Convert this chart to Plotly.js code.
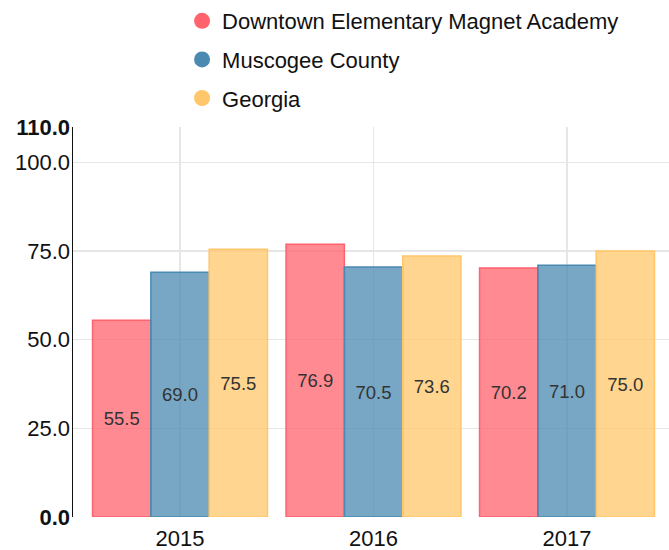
<!DOCTYPE html>
<html>
<head>
<meta charset="utf-8">
<script src="https://cdn.plot.ly/plotly-3.0.1.min.js"></script>
<style>html,body{margin:0;padding:0;background:#fff;}#chart{width:669px;height:550px;}</style>
</head>
<body>
<div id="chart"></div>
<script>
const years = ["2015", "2016", "2017"];
const seriesNames = ["Downtown Elementary Magnet Academy", "Muscogee County", "Georgia"];
const schoolValues = [55.5, 76.9, 70.2];
const countyValues = [69.0, 70.5, 71.0];
const stateValues = [75.5, 73.6, 75.0];
const yTickVals = [0, 25, 50, 75, 100, 110];
const yTickText = ["<b>0.0</b>", "25.0", "50.0", "75.0", "100.0", "<b>110.0</b>"];

const baseColors = ["rgb(255,99,110)", "rgb(74,137,176)", "rgb(255,199,106)"];
const fillColors = ["rgba(255,99,110,0.75)", "rgba(74,137,176,0.75)", "rgba(255,199,106,0.75)"];
const allValues = [schoolValues, countyValues, stateValues];
const FONT = "Liberation Sans, Arial, Helvetica, sans-serif";

const traces = [];
allValues.forEach((vals, i) => {
  traces.push({
    type: "bar",
    x: years,
    y: vals,
    name: seriesNames[i],
    showlegend: false,
    marker: {color: fillColors[i], line: {color: baseColors[i], width: 1.5}},
    texttemplate: "%{y:.1f}",
    textposition: "inside",
    insidetextanchor: "middle",
    textangle: 0,
    textfont: {family: FONT, size: 18.5, color: "#333"},
    hoverinfo: "skip"
  });
});
seriesNames.forEach((n, i) => {
  traces.push({
    type: "scatter",
    mode: "markers",
    x: [null],
    y: [null],
    name: n,
    legendgroup: "g" + i,
    marker: {color: baseColors[i], size: 22, symbol: "circle"},
    showlegend: true
  });
});

const layout = {
  width: 669,
  height: 550,
  margin: {l: 73, r: 0, t: 127, b: 33},
  paper_bgcolor: "#fff",
  plot_bgcolor: "#fff",
  font: {family: FONT, size: 22, color: "#111"},
  barmode: "group",
  bargap: 0.096,
  bargroupgap: 0,
  showlegend: true,
  legend: {
    x: 0.183, y: 1.3256, xanchor: "left", yanchor: "top",
    orientation: "v",
    font: {family: FONT, size: 22, color: "#111"},
    itemsizing: "trace",
    tracegroupgap: 7,
    bgcolor: "rgba(0,0,0,0)"
  },
  xaxis: {
    type: "category",
    range: [-0.553, 2.527],
    showgrid: true,
    gridcolor: "#e6e6e6",
    gridwidth: 1.5,
    showline: false,
    zeroline: false,
    ticks: "",
    ticklabelstandoff: 6,
    tickfont: {family: FONT, size: 22, color: "#111"}
  },
  yaxis: {
    range: [0, 110],
    tickmode: "array",
    tickvals: yTickVals,
    ticktext: yTickText,
    showgrid: true,
    gridcolor: "#e6e6e6",
    gridwidth: 1.5,
    showline: true,
    linecolor: "#111",
    linewidth: 1.5,
    zeroline: false,
    ticks: "",
    ticklabelstandoff: -3,
    tickfont: {family: FONT, size: 22, color: "#111"}
  }
};

Plotly.newPlot("chart", traces, layout, {displayModeBar: false, staticPlot: true});
</script>
</body>
</html>
